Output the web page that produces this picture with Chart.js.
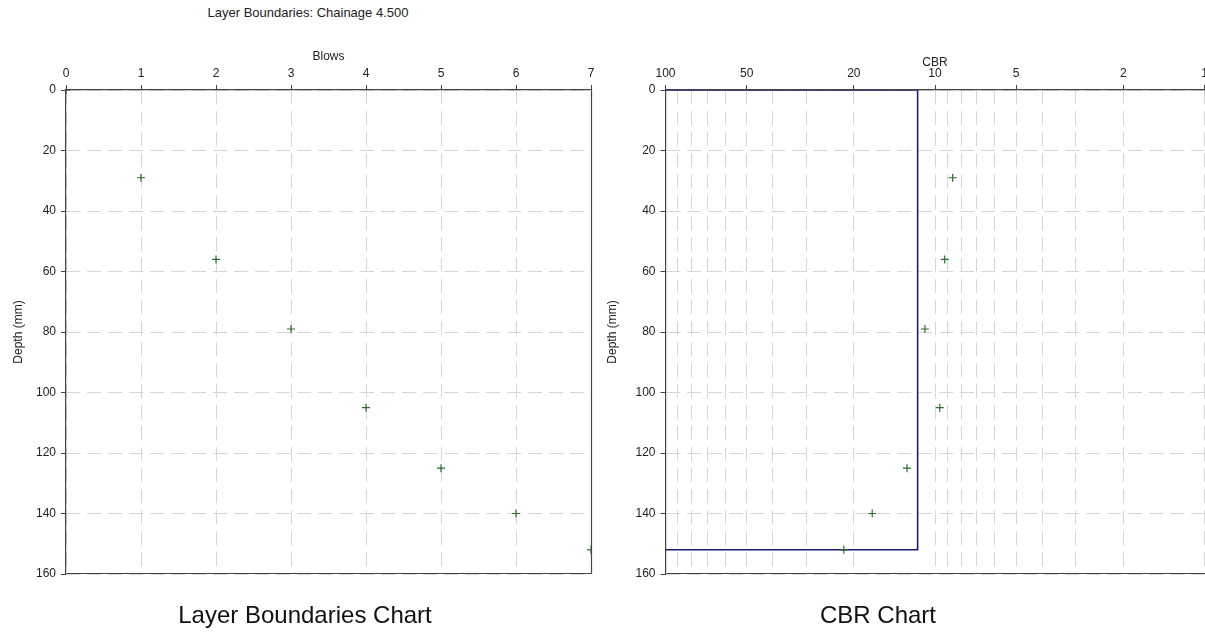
<!DOCTYPE html>
<html>
<head>
<meta charset="utf-8">
<script src="https://cdn.jsdelivr.net/npm/chart.js@4.4.1/dist/chart.umd.min.js"></script>
<style>
  html, body { margin: 0; padding: 0; background: #fff; overflow: hidden; }
  body { width: 1205px; height: 634px; position: relative; font-family: "Liberation Sans", Arial, sans-serif; }
  canvas { position: absolute; top: 0; }
  .cap { position: absolute; color: #111; white-space: nowrap; transform: translateX(-50%); }
</style>
</head>
<body>
<div class="cap" style="left:308px; top:5px; font-size:13px; color:#222;">Layer Boundaries: Chainage 4.500</div>
<canvas id="blowsChart" width="600" height="634" style="left:0"></canvas>
<canvas id="cbrChart" width="610" height="634" style="left:600px"></canvas>
<div class="cap" style="left:305px; top:603px; font-size:24px; line-height:24px;">Layer Boundaries Chart</div>
<div class="cap" style="left:878px; top:603px; font-size:24px; line-height:24px;">CBR Chart</div>

<script>
// data
var blows = [0, 1, 2, 3, 4, 5, 6, 7]
var depth = [0, 29, 56, 79, 105, 125, 140, 152]

var cbrDepth = [29, 56, 79, 105, 125, 140, 152]
var cbr = [8.6, 9.2, 10.9, 9.6, 12.7, 17.1, 21.8]

// layer boundary outline (CBR, depth)
var layerCbr = [100, 11.6, 11.6, 100]
var layerDepth = [0, 0, 152, 152]

// log axis gridlines and the ones that get a label
var cbrGrid = [1, 2, 3, 4, 5, 6, 7, 8, 9, 10, 20, 30, 40, 50, 60, 70, 80, 90, 100]
var cbrLabels = [1, 2, 5, 10, 20, 50, 100]

var depthTicks = [0, 20, 40, 60, 80, 100, 120, 140, 160]

var gridColor = '#d6d6d6'
var axisColor = '#444444'
var markColor = '#2b6b2b'
var layerColor = '#1c1c78'
var font = { family: '"Liberation Sans", Arial, sans-serif', size: 12 }

Chart.defaults.color = '#222'

// bottom (and right) border of the plot area
var framePlugin = {
    id: 'frame',
    afterDatasetsDraw: function (chart, args, opts) {
        let a = chart.chartArea, ctx = chart.ctx
        let l = Math.round(a.left) + 0.5, r = Math.round(a.right) + 0.5, b = Math.round(a.bottom) - 0.5
        ctx.save()
        ctx.setLineDash([])
        ctx.strokeStyle = axisColor
        ctx.lineWidth = 1.2
        ctx.beginPath()
        ctx.moveTo(l, b)
        ctx.lineTo(r, b)
        if (opts.right) {
            ctx.moveTo(r, Math.round(a.top) + 0.5)
            ctx.lineTo(r, b)
        }
        ctx.stroke()
        ctx.restore()
    }
}

function depthAxis(width, titlePad) {
    return {
        type: 'linear',
        reverse: true,
        min: 0,
        max: 160,
        afterBuildTicks: function (scale) {
            scale.ticks = depthTicks.map(function (v) { return { value: v } })
        },
        afterFit: function (scale) { scale.width = width },
        ticks: { font: font, padding: 5, color: '#222' },
        grid: { color: gridColor, tickColor: axisColor, tickLength: 5 },
        border: { color: axisColor, width: 1.2, dash: [14, 7] },
        title: { display: true, text: 'Depth (mm)', font: font, padding: { top: titlePad, bottom: 0 } }
    }
}

// chart 1: blows against depth
let ctx1 = document.getElementById('blowsChart').getContext('2d')
let blowsChart = new Chart(ctx1, {
    type: 'scatter',
    data: {
        datasets: [{
            label: 'Blows',
            data: blows.map(function (b, i) { return { x: b, y: depth[i] } }),
            pointStyle: 'cross',
            pointRadius: 4,
            borderWidth: 1.2,
            borderColor: markColor,
            backgroundColor: markColor
        }]
    },
    options: {
        responsive: false,
        animation: false,
        events: [],
        layout: { padding: { left: 0, top: 0, right: 9, bottom: 60 } },
        plugins: { legend: { display: false }, tooltip: { enabled: false }, frame: { right: true } },
        scales: {
            x: {
                type: 'linear',
                position: 'top',
                min: 0,
                max: 7,
                afterFit: function (scale) { scale.height = 90 },
                ticks: { stepSize: 1, font: font, padding: 4, maxRotation: 0, color: '#222' },
                grid: { color: gridColor, tickColor: axisColor, tickLength: 5 },
                border: { color: axisColor, width: 1.2, dash: [14, 7] },
                title: { display: true, text: 'Blows', font: font, padding: { top: 49, bottom: 0 } }
            },
            y: depthAxis(66, 11)
        }
    },
    plugins: [framePlugin]
})

// chart 2: CBR (log, reversed) against depth
let ctx2 = document.getElementById('cbrChart').getContext('2d')
let cbrChart = new Chart(ctx2, {
    type: 'scatter',
    data: {
        datasets: [{
            label: 'CBR',
            data: cbr.map(function (c, i) { return { x: c, y: cbrDepth[i] } }),
            pointStyle: 'cross',
            pointRadius: 4,
            borderWidth: 1.2,
            borderColor: markColor,
            backgroundColor: markColor,
            order: 1
        }, {
            label: 'Layer',
            data: layerCbr.map(function (c, i) { return { x: c, y: layerDepth[i] } }),
            showLine: true,
            pointRadius: 0,
            borderWidth: 1.6,
            borderColor: layerColor,
            fill: false,
            order: 2
        }]
    },
    options: {
        responsive: false,
        animation: false,
        events: [],
        layout: { padding: { left: 0, top: 0, right: 5.5, bottom: 60 } },
        plugins: { legend: { display: false }, tooltip: { enabled: false }, frame: { right: false } },
        scales: {
            x: {
                type: 'logarithmic',
                position: 'top',
                reverse: true,
                min: 1,
                max: 100,
                afterBuildTicks: function (scale) {
                    scale.ticks = cbrGrid.map(function (v) { return { value: v } })
                },
                afterFit: function (scale) { scale.height = 90 },
                ticks: {
                    font: font, padding: 4, maxRotation: 0, autoSkip: false, color: '#222',
                    callback: function (v) { return cbrLabels.indexOf(v) >= 0 ? String(v) : '' }
                },
                grid: {
                    color: gridColor,
                    tickLength: 5,
                    tickColor: function (c) {
                        return c.tick && cbrLabels.indexOf(c.tick.value) >= 0 ? axisColor : 'rgba(0,0,0,0)'
                    }
                },
                border: { color: axisColor, width: 1.2, dash: [14, 7] },
                title: { display: true, text: 'CBR', font: font, padding: { top: 55, bottom: 0 } }
            },
            y: depthAxis(65.5, 5)
        }
    },
    plugins: [framePlugin]
})
</script>
</body>
</html>
